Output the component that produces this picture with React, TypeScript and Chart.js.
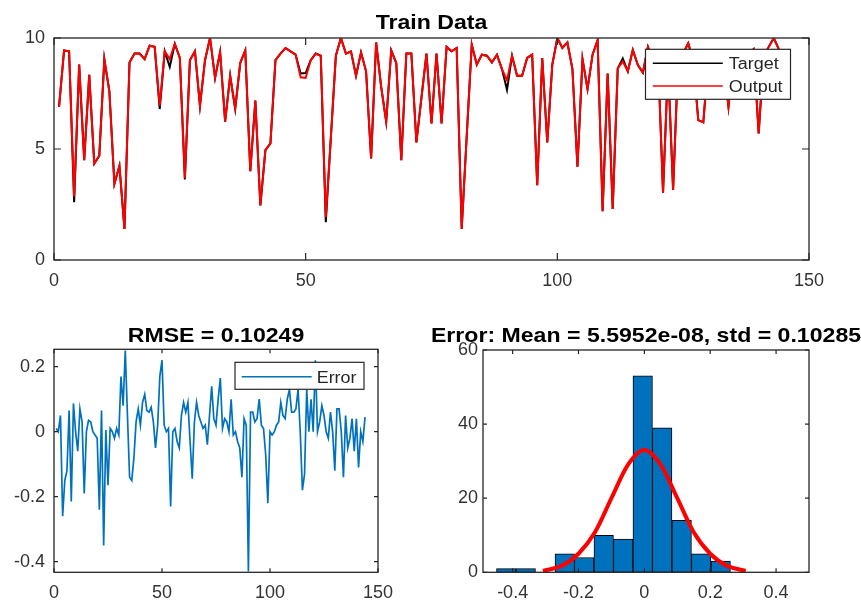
import React, { useEffect, useRef } from "react";
import { Chart, registerables } from "chart.js";

Chart.register(...registerables);

const FONT = "'Liberation Sans', Arial, Helvetica, sans-serif";

// ---------- data ----------
const targetValues = [
  6.9, 9.44, 9.4, 2.6, 8.8, 4.5, 8.34, 4.34, 4.7, 9.05,
  7.6, 3.44, 4.24, 1.4, 8.9, 9.3, 9.3, 9.05, 9.65, 9.6,
  6.8, 9.4, 8.7, 9.74, 9.1, 3.63, 9.0, 9.4, 6.94, 9.0,
  10.0, 8.2, 9.37, 6.23, 8.3, 6.8, 8.87, 9.44, 4.0, 7.18,
  2.46, 4.95, 5.25, 9.0, 9.3, 9.55, 9.4, 9.25, 8.4, 8.42,
  9.0, 9.3, 9.2, 1.7, 5.5, 9.2, 10.0, 9.3, 9.4, 8.3,
  9.35, 8.5, 4.57, 9.8, 7.8, 6.23, 9.44, 8.87, 4.5, 9.3,
  9.3, 5.3, 7.3, 9.3, 6.15, 9.3, 6.15, 9.6, 9.4, 9.55,
  1.4, 5.6, 9.7, 8.8, 9.25, 9.2, 8.9, 9.25, 8.6, 7.67,
  9.2, 8.3, 8.3, 9.1, 9.25, 3.37, 9.1, 5.3, 8.8, 10.0,
  9.55, 9.8, 8.6, 4.2, 9.05, 7.7, 9.25, 9.9, 2.2, 8.4,
  2.3, 8.63, 9.08, 8.5, 9.46, 8.78, 8.44, 9.6, 9.0, 9.2,
  3.03, 8.8, 3.15, 9.0, 9.3, 9.76, 9.0, 6.3, 6.2, 9.0,
  9.3, 9.2, 9.0, 6.9, 9.2, 9.4, 9.2, 9.3, 9.5, 5.7,
  9.2, 9.6, 10.0, 9.5,
];

const outputValues = [
  6.9, 9.44, 9.4, 2.86, 8.8, 4.5, 8.34, 4.34, 4.7, 9.05,
  7.6, 3.44, 4.24, 1.4, 8.9, 9.3, 9.3, 9.05, 9.65, 9.6,
  6.95, 9.4, 9.05, 9.74, 9.1, 3.7, 9.0, 9.4, 6.94, 9.0,
  10.0, 8.2, 9.37, 6.23, 8.3, 6.85, 8.87, 9.44, 4.0, 7.18,
  2.46, 4.95, 5.25, 9.0, 9.3, 9.55, 9.4, 9.25, 8.23, 8.2,
  9.0, 9.3, 9.2, 1.93, 5.5, 9.2, 10.0, 9.3, 9.4, 8.3,
  9.35, 8.5, 4.57, 9.8, 7.8, 6.23, 9.44, 8.87, 4.5, 9.3,
  9.3, 5.3, 7.3, 9.3, 6.15, 9.3, 6.15, 9.6, 9.4, 9.55,
  1.4, 5.6, 9.7, 8.8, 9.25, 9.2, 8.9, 9.25, 8.6, 8.1,
  9.2, 8.3, 8.3, 9.1, 9.25, 3.37, 9.1, 5.3, 8.8, 10.0,
  9.55, 9.8, 8.6, 4.2, 9.05, 7.7, 9.25, 9.9, 2.2, 8.4,
  2.3, 8.63, 8.95, 8.5, 9.46, 8.78, 8.44, 9.6, 9.0, 9.2,
  3.03, 8.8, 3.15, 9.0, 9.3, 9.76, 9.0, 6.3, 6.2, 9.0,
  9.3, 9.2, 9.0, 6.9, 9.2, 9.4, 9.2, 9.3, 9.5, 5.7,
  9.2, 9.6, 10.0, 9.5,
];

const errorValues = [
  0.01, 0.0, 0.05, -0.26, -0.15, -0.12, 0.065, -0.215, 0.087, 0.0,
  -0.06, 0.07, 0.03, -0.19, 0.0, 0.035, 0.03, 0.0, -0.01, -0.02,
  -0.24, 0.065, -0.35, 0.005, -0.165, 0.01, 0.0, -0.02, 0.01, -0.01,
  0.17, 0.08, 0.25, 0.05, -0.14, -0.15, -0.08, 0.03, 0.07, 0.02,
  0.09, 0.115, 0.065, 0.06, 0.075, 0.03, -0.05, 0.02, 0.17, 0.22,
  0.02, 0.0, 0.01, -0.23, 0.0, 0.01, -0.03, -0.05, 0.05, 0.09,
  0.06, 0.09, -0.03, -0.145, 0.03, 0.09, 0.05, 0.03, 0.01, 0.02,
  -0.04, 0.05, 0.14, 0.04, 0.02, 0.1, 0.165, 0.01, 0.04, 0.03,
  0.0, 0.1, -0.01, 0.0, -0.03, -0.05, -0.14, 0.04, 0.02, -0.43,
  0.06, 0.06, 0.03, 0.04, 0.1, 0.02, 0.01, -0.07, -0.22, 0.0,
  -0.01, 0.0, 0.02, 0.03, 0.09, 0.05, 0.04, 0.1, 0.13, 0.06,
  0.06, 0.07, 0.13, 0.0, -0.18, -0.13, 0.13, 0.0, 0.1, 0.0,
  0.22, 0.0, 0.03, 0.08, 0.05, 0.0, -0.02, 0.06, 0.0, -0.12,
  0.07, 0.07, 0.0, -0.14, 0.05, -0.05, -0.02, 0.04, -0.06, 0.04,
  -0.11, 0.0, -0.03, 0.045,
];

const binCenters = [
  -0.4194, -0.3602, -0.301, -0.2418, -0.1826, -0.1234,
  -0.0642, -0.005, 0.0542, 0.1134, 0.1726, 0.2318,
];
const binCounts = [1, 1, 0, 5, 4, 10, 9, 53, 39, 14, 5, 3];

const fitX = [-0.308, -0.25, -0.2, -0.15, -0.1, -0.05, 0, 0.05, 0.1, 0.15, 0.2, 0.25, 0.308];
const fitY = [0.37, 1.8, 5.0, 10.8, 20.0, 29.0, 33.0, 29.0, 20.0, 10.8, 5.0, 1.8, 0.37];

const trainXTicks = [0, 50, 100, 150];
const trainYTicks = [0, 5, 10];
const errXTicks = [0, 50, 100, 150];
const errYTicks = [-0.4, -0.2, 0, 0.2];
const histXTicks = [-0.4, -0.2, 0, 0.2, 0.4];
const histYTicks = [0, 20, 40, 60];

const trainTitle = "Train Data";
const errTitle = "RMSE = 0.10249";
const histTitle = "Error: Mean = 5.5952e-08, std = 0.10285";

// ---------- helpers ----------
const fmt = (v: number) => String(Math.round(v * 100) / 100);

function axis(
  min: number,
  max: number,
  ticks: number[],
  fit: { width?: number; height?: number },
  padding: number
) {
  return {
    type: "linear",
    min,
    max,
    offset: false,
    grid: { display: false, drawTicks: false },
    border: { display: false },
    ticks: {
      padding,
      color: "#333",
      font: { size: 18, family: FONT },
      maxRotation: 0,
      autoSkip: false,
      callback: (v: any) => fmt(Number(v)),
    },
    afterBuildTicks: (s: any) => {
      s.ticks = ticks.map((v) => ({ value: v }));
    },
    afterFit: (s: any) => {
      if (fit.width !== undefined) s.width = fit.width;
      if (fit.height !== undefined) s.height = fit.height;
    },
  };
}

type LegendCfg = {
  rightGap: number;
  topGap: number;
  w: number;
  h: number;
  lineStart: number;
  lineLen: number;
  textX: number;
  rows: number[];
  items: { label: string; color: string }[];
};

function matlabPlugin(cfg: {
  id: string;
  title: string;
  titleGap: number;
  tickLen: number;
  legend?: LegendCfg;
}) {
  return {
    id: cfg.id,
    afterDraw(chart: any) {
      const { ctx, chartArea: a } = chart;
      const xs = chart.scales.x;
      const ys = chart.scales.y;
      ctx.save();
      ctx.strokeStyle = "#262626";
      ctx.lineWidth = 1.2;
      ctx.beginPath();
      for (const t of xs.ticks) {
        const px = xs.getPixelForValue(t.value);
        ctx.moveTo(px, a.bottom);
        ctx.lineTo(px, a.bottom - cfg.tickLen);
        ctx.moveTo(px, a.top);
        ctx.lineTo(px, a.top + cfg.tickLen);
      }
      for (const t of ys.ticks) {
        const py = ys.getPixelForValue(t.value);
        ctx.moveTo(a.left, py);
        ctx.lineTo(a.left + cfg.tickLen, py);
        ctx.moveTo(a.right, py);
        ctx.lineTo(a.right - cfg.tickLen, py);
      }
      ctx.stroke();
      ctx.lineWidth = 1.3;
      ctx.strokeRect(a.left, a.top, a.right - a.left, a.bottom - a.top);

      const lg = cfg.legend;
      if (lg) {
        const bx = a.right - lg.rightGap - lg.w;
        const by = a.top + lg.topGap;
        ctx.fillStyle = "#ffffff";
        ctx.fillRect(bx, by, lg.w, lg.h);
        ctx.strokeStyle = "#262626";
        ctx.lineWidth = 1.2;
        ctx.strokeRect(bx, by, lg.w, lg.h);
        lg.items.forEach((it, i) => {
          const ry = by + lg.rows[i];
          ctx.strokeStyle = it.color;
          ctx.lineWidth = 1.6;
          ctx.beginPath();
          ctx.moveTo(bx + lg.lineStart, ry);
          ctx.lineTo(bx + lg.lineStart + lg.lineLen, ry);
          ctx.stroke();
          ctx.save();
          ctx.fillStyle = "#262626";
          ctx.font = `16px ${FONT}`;
          ctx.textAlign = "left";
          ctx.textBaseline = "alphabetic";
          ctx.translate(bx + lg.textX, ry + 5.8);
          ctx.scale(1.12, 1);
          ctx.fillText(it.label, 0, 0);
          ctx.restore();
        });
      }

      ctx.fillStyle = "#000";
      ctx.font = `bold 21px ${FONT}`;
      ctx.textAlign = "center";
      ctx.textBaseline = "alphabetic";
      ctx.translate((a.left + a.right) / 2, a.top - cfg.titleGap);
      ctx.scale(1.1, 1);
      ctx.fillText(cfg.title, 0, 0);
      ctx.restore();
    },
  };
}

const baseOptions = {
  responsive: false,
  animation: false,
  devicePixelRatio: 1,
  events: [],
};

const basePlugins = {
  legend: { display: false },
  tooltip: { enabled: false },
  title: { display: false },
};

function trainConfig(): any {
  const pts = (vals: number[]) => vals.map((y, i) => ({ x: i + 1, y }));
  return {
    type: "line",
    data: {
      datasets: [
        {
          label: "Target",
          data: pts(targetValues),
          borderColor: "#000000",
          borderWidth: 2,
          pointRadius: 0,
          tension: 0,
          order: 1,
        },
        {
          label: "Output",
          data: pts(outputValues),
          borderColor: "#ff0000",
          borderWidth: 2,
          pointRadius: 0,
          tension: 0,
          order: 0,
        },
      ],
    },
    options: {
      ...baseOptions,
      layout: { padding: { top: 38, right: 52, left: 0, bottom: 0 } },
      plugins: basePlugins,
      scales: {
        x: axis(0, 150, trainXTicks, { height: 40 }, 10),
        y: axis(0, 10, trainYTicks, { width: 54 }, 9),
      },
    },
    plugins: [
      matlabPlugin({
        id: "mTrain",
        title: trainTitle,
        titleGap: 9.5,
        tickLen: 7,
        legend: {
          rightGap: 18.5,
          topGap: 11.3,
          w: 145,
          h: 50,
          lineStart: 7.3,
          lineLen: 70,
          textX: 83.3,
          rows: [14, 36.7],
          items: [
            { label: "Target", color: "#000000" },
            { label: "Output", color: "#ff0000" },
          ],
        },
      }),
    ],
  };
}

function errorConfig(): any {
  return {
    type: "line",
    data: {
      datasets: [
        {
          label: "Error",
          data: errorValues.map((y, i) => ({ x: i + 1, y })),
          borderColor: "#0072BD",
          borderWidth: 1.7,
          pointRadius: 0,
          tension: 0,
        },
      ],
    },
    options: {
      ...baseOptions,
      layout: { padding: { top: 49.3, right: 52, left: 0, bottom: 0 } },
      plugins: basePlugins,
      scales: {
        x: axis(0, 150, errXTicks, { height: 30.7 }, 10),
        y: axis(-0.4326, 0.2535, errYTicks, { width: 54 }, 9),
      },
    },
    plugins: [
      matlabPlugin({
        id: "mErr",
        title: errTitle,
        titleGap: 7.8,
        tickLen: 4,
        legend: {
          rightGap: 14,
          topGap: 13,
          w: 129,
          h: 27,
          lineStart: 6.7,
          lineLen: 70,
          textX: 81.7,
          rows: [14.4],
          items: [{ label: "Error", color: "#0072BD" }],
        },
      }),
    ],
  };
}

function histConfig(): any {
  const bars = binCenters
    .map((x, i) => ({ x, y: binCounts[i] }))
    .filter((p) => p.y > 0);
  return {
    type: "bar",
    data: {
      datasets: [
        {
          type: "line",
          label: "Fit",
          data: fitX.map((x, i) => ({ x, y: fitY[i] })),
          borderColor: "#ff0000",
          borderWidth: 4,
          pointRadius: 0,
          cubicInterpolationMode: "monotone",
          order: 0,
        },
        {
          type: "bar",
          label: "Counts",
          data: bars,
          backgroundColor: "#0072BD",
          borderColor: "#000000",
          borderWidth: 1,
          borderSkipped: false,
          barPercentage: 1,
          categoryPercentage: 1,
          order: 1,
        },
      ],
    },
    options: {
      ...baseOptions,
      layout: { padding: { top: 50, right: 52, left: 0, bottom: 0 } },
      plugins: basePlugins,
      scales: {
        x: axis(-0.49, 0.5, histXTicks, { height: 30.7 }, 10),
        y: axis(0, 60, histYTicks, { width: 53 }, 5),
      },
    },
    plugins: [
      matlabPlugin({
        id: "mHist",
        title: histTitle,
        titleGap: 8.5,
        tickLen: 4,
      }),
    ],
  };
}

function ChartCanvas(props: {
  make: () => any;
  left: number;
  top: number;
  width: number;
  height: number;
}) {
  const ref = useRef<HTMLCanvasElement | null>(null);
  useEffect(() => {
    if (!ref.current) return;
    const chart = new Chart(ref.current, props.make());
    return () => chart.destroy();
  }, []);
  return (
    <canvas
      ref={ref}
      width={props.width}
      height={props.height}
      style={{
        position: "absolute",
        left: props.left,
        top: props.top,
        width: props.width,
        height: props.height,
      }}
    />
  );
}

export default function App() {
  return (
    <div
      style={{
        position: "fixed",
        left: 0,
        top: 0,
        width: 861,
        height: 603,
        background: "#ffffff",
        overflow: "hidden",
      }}
    >
      <ChartCanvas make={trainConfig} left={0} top={0} width={861} height={300} />
      <ChartCanvas make={errorConfig} left={0} top={300} width={430} height={303} />
      <ChartCanvas make={histConfig} left={430} top={300} width={431} height={303} />
    </div>
  );
}
